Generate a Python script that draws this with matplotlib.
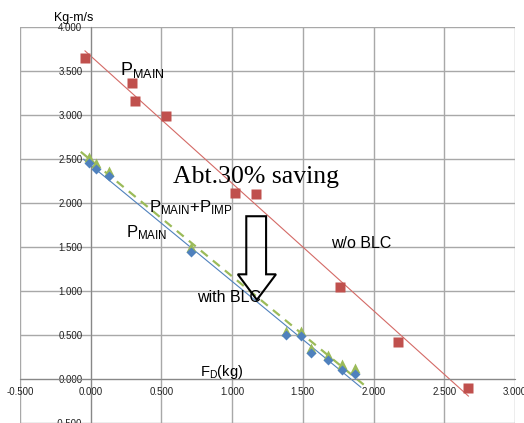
import numpy as np
import matplotlib.pyplot as plt
from matplotlib.patches import Polygon

plt.rcParams['font.family'] = ['Liberation Sans', 'DejaVu Sans']
plt.rcParams['mathtext.default'] = 'regular'

# without BLC (red squares)
fd_wo = [-0.04, 0.29, 0.31, 0.53, 1.02, 1.17, 1.76, 2.17, 2.67]
p_wo = [3.65, 3.36, 3.16, 2.99, 2.11, 2.10, 1.05, 0.42, -0.10]

# with BLC, P_MAIN (blue diamonds)
fd_w = [-0.01, 0.04, 0.13, 0.71, 1.38, 1.49, 1.56, 1.68, 1.78, 1.87]
p_main = [2.45, 2.39, 2.31, 1.44, 0.50, 0.49, 0.30, 0.22, 0.10, 0.06]
# with BLC, P_MAIN + P_IMP (green triangles)
p_total = [2.52, 2.45, 2.36, 1.50, 0.54, 0.54, 0.35, 0.27, 0.17, 0.13]

RED = '#C0504D'
BLUE = '#4F81BD'
GREEN = '#9BBB59'

fig = plt.figure(figsize=(5.24, 4.23), dpi=100)
ax = fig.add_axes([0.038, 0.0, 0.945, 0.936])


def trend(x, y, ext=0.0):
    k, b = np.polyfit(x, y, 1)
    xs = np.array([min(x) - ext, max(x) + ext])
    return xs, k * xs + b


xs, ys = trend(fd_wo, p_wo, 0.0)
ax.plot(xs, ys, color='#D46A66', lw=0.8, zorder=2)
xs, ys = trend(fd_w, p_main, 0.04)
ax.plot(xs, ys, color=BLUE, lw=0.8, zorder=2)
xs, ys = trend(fd_w, p_total, 0.06)
ax.plot(xs, ys, color=GREEN, lw=1.6, ls=(0, (4, 3)), zorder=2)

ax.plot(fd_wo, p_wo, 's', color=RED, ms=6.5, mec='none', zorder=3)
ax.plot(fd_w, p_total, '^', color=GREEN, ms=7, mec='none', zorder=3)
ax.plot(fd_w, p_main, 'D', color=BLUE, ms=5, mec='none', zorder=4)

ax.set_xlim(-0.5, 3.0)
ax.set_ylim(-0.5, 4.0)
ax.set_xticks(np.arange(-0.5, 3.01, 0.5))
ax.set_yticks(np.arange(-0.5, 4.01, 0.5))
ax.xaxis.set_major_formatter(plt.FormatStrFormatter('%.3f'))
ax.yaxis.set_major_formatter(plt.FormatStrFormatter('%.3f'))
ax.tick_params(length=0, labelsize=7, colors='#222222', pad=6)
ax.grid(True, color='#A8A8A8', lw=1)
ax.set_axisbelow(True)
for s in ['top', 'right']:
    ax.spines[s].set_visible(False)
ax.spines['left'].set_position(('data', 0))
ax.spines['bottom'].set_position(('data', 0))
ax.spines['left'].set_color('#888888')
ax.spines['bottom'].set_color('#888888')

ax.text(0.21, 3.45, r'P$_{MAIN}$', fontsize=13)
ax.text(0.585, 2.23, 'Abt.30% saving', fontsize=18.5, family='Liberation Serif')
ax.text(0.41, 1.90, r'P$_{MAIN}$+P$_{IMP}$', fontsize=12)
ax.text(0.25, 1.61, r'P$_{MAIN}$', fontsize=12)
ax.text(0.755, 0.875, 'with BLC', fontsize=11.5)
ax.text(1.70, 1.49, 'w/o BLC', fontsize=11.5)
ax.text(0.77, 0.03, r'F$_{D}$(kg)', fontsize=10.5)
ax.text(-0.26, 4.07, 'Kg-m/s', fontsize=9)

arrow = Polygon([(1.10, 1.85), (1.24, 1.85), (1.24, 1.19), (1.31, 1.19),
                 (1.175, 0.90), (1.04, 1.19), (1.10, 1.19)],
                closed=True, fill=False, ec='black', lw=1.5, zorder=5)
ax.add_patch(arrow)

fig.savefig('out.png', dpi=100)
